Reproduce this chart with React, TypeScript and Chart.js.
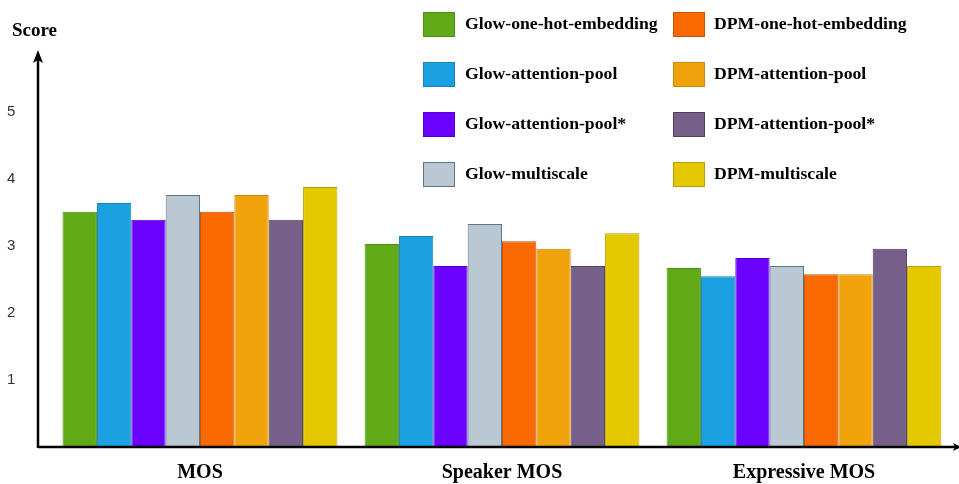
import React, { useEffect, useRef } from "react";
import { Chart, registerables } from "chart.js";

Chart.register(...registerables);

const categories = ["MOS", "Speaker MOS", "Expressive MOS"];
const seriesNames = [
  "Glow-one-hot-embedding",
  "Glow-attention-pool",
  "Glow-attention-pool*",
  "Glow-multiscale",
  "DPM-one-hot-embedding",
  "DPM-attention-pool",
  "DPM-attention-pool*",
  "DPM-multiscale",
];
const glowOneHot = [3.51, 3.03, 2.67];
const glowAttn = [3.64, 3.15, 2.55];
const glowAttnStar = [3.39, 2.7, 2.82];
const glowMulti = [3.76, 3.33, 2.7];
const dpmOneHot = [3.51, 3.07, 2.58];
const dpmAttn = [3.76, 2.96, 2.58];
const dpmAttnStar = [3.39, 2.7, 2.96];
const dpmMulti = [3.88, 3.19, 2.7];
const yTicks = [1, 2, 3, 4, 5];

const fills = ["#60a917", "#1ba1e2", "#6a00ff", "#bac8d3", "#fa6800", "#f0a30a", "#76608a", "#e3c800"];
const borders = ["#4f8f12", "#1682ba", "#5200cc", "#5f7486", "#c75300", "#c78a0a", "#4f3e60", "#b8a200"];

const SERIF = '"Liberation Serif", "Times New Roman", serif';
const SANS = '"Liberation Sans", Arial, sans-serif';

const decorPlugin = {
  id: "decor",
  afterDraw(chart: any) {
    const ctx = chart.ctx;
    const axisX = 38;
    const baseY = chart.scales.y.getPixelForValue(0);
    ctx.save();
    ctx.strokeStyle = "#000";
    ctx.fillStyle = "#000";
    ctx.lineWidth = 2.5;
    // y axis
    ctx.beginPath();
    ctx.moveTo(axisX, baseY + 1);
    ctx.lineTo(axisX, 60);
    ctx.stroke();
    ctx.beginPath();
    ctx.moveTo(axisX, 50);
    ctx.lineTo(axisX - 5, 63);
    ctx.lineTo(axisX, 60);
    ctx.lineTo(axisX + 5, 63);
    ctx.closePath();
    ctx.fill();
    // x axis
    ctx.beginPath();
    ctx.moveTo(axisX, baseY);
    ctx.lineTo(chart.width, baseY);
    ctx.stroke();
    ctx.beginPath();
    ctx.moveTo(chart.width + 2, baseY);
    ctx.lineTo(chart.width - 6, baseY - 4);
    ctx.lineTo(chart.width - 4, baseY);
    ctx.lineTo(chart.width - 6, baseY + 4);
    ctx.closePath();
    ctx.fill();
    // Score title
    ctx.font = `bold 19px ${SERIF}`;
    ctx.textAlign = "left";
    ctx.textBaseline = "middle";
    ctx.fillText("Score", 12, 31);
    // legend
    const colX = [423, 673];
    const textX = [465, 714];
    const rowY = [24.5, 74.5, 124.5, 174.5];
    ctx.font = `bold 17.7px ${SERIF}`;
    chart.data.datasets.forEach((ds: any, i: number) => {
      const c = Math.floor(i / 4);
      const r = i % 4;
      const x = colX[c];
      const y = rowY[r];
      ctx.fillStyle = ds.backgroundColor;
      ctx.fillRect(x, y - 12.5, 32, 25);
      ctx.strokeStyle = ds.borderColor;
      ctx.lineWidth = 1;
      ctx.strokeRect(x + 0.5, y - 12, 31, 24);
      ctx.fillStyle = "#000";
      ctx.fillText(ds.label, textX[c], y);
    });
    ctx.restore();
  },
};

export default function App() {
  const ref = useRef<HTMLCanvasElement>(null);
  useEffect(() => {
    const seriesData = [glowOneHot, glowAttn, glowAttnStar, glowMulti, dpmOneHot, dpmAttn, dpmAttnStar, dpmMulti];
    const chart = new Chart(ref.current as HTMLCanvasElement, {
      type: "bar",
      data: {
        labels: categories,
        datasets: seriesNames.map((name, i) => ({
          label: name,
          data: seriesData[i],
          backgroundColor: fills[i],
          borderColor: borders[i],
          borderWidth: 1,
          barPercentage: 1,
          categoryPercentage: 0.91,
        })),
      },
      options: {
        animation: false,
        responsive: false,
        maintainAspectRatio: false,
        layout: { padding: { left: 7, right: 4, top: 50, bottom: 0 } },
        plugins: { legend: { display: false }, tooltip: { enabled: false } },
        scales: {
          x: {
            grid: { display: false },
            border: { display: false },
            afterFit: (scale: any) => {
              scale.height = 37;
            },
            ticks: {
              color: "#000",
              font: { family: SERIF, size: 20, weight: "bold" },
              padding: 6,
            },
          },
          y: {
            min: 0,
            max: 5.925,
            grid: { display: false },
            border: { display: false },
            afterBuildTicks: (scale: any) => {
              scale.ticks = yTicks.map((v) => ({ value: v }));
            },
            afterFit: (scale: any) => {
              scale.width = 42;
            },
            ticks: {
              crossAlign: "far",
              color: "#333",
              font: { family: SANS, size: 15 },
              padding: 0,
            },
          },
        },
      },
      plugins: [decorPlugin],
    });
    return () => chart.destroy();
  }, []);
  return (
    <div style={{ position: "fixed", left: 0, top: 0, width: 959, height: 484, background: "#fff" }}>
      <canvas ref={ref} width={959} height={484} style={{ width: 959, height: 484 }} />
    </div>
  );
}
